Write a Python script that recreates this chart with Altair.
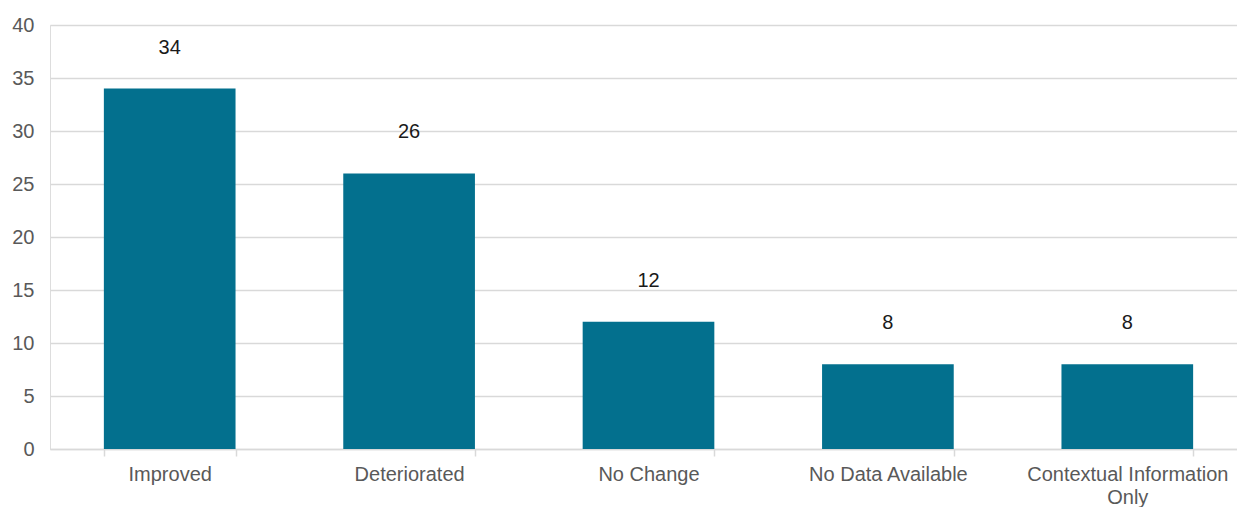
import altair as alt
import pandas as pd

categories = ["Improved", "Deteriorated", "No Change", "No Data Available", "Contextual Information Only"]
counts = [34, 26, 12, 8, 8]

df = pd.DataFrame({"category": categories, "count": counts})

FONT = "Liberation Sans"
BAR = "#03708E"
GRID = "#D9D9D9"
TEXT_GRAY = "#595959"

x = alt.X(
    "category:N",
    sort=categories,
    title=None,
    scale=alt.Scale(paddingInner=0.45, paddingOuter=0.225, range=[0, 1197]),
    axis=alt.Axis(
        labelAngle=0,
        labelFont=FONT,
        labelFontSize=20,
        labelColor=TEXT_GRAY,
        labelPadding=8,
        labelLimit=300,
        labelLineHeight=23,
        labelExpr="datum.label == 'Contextual Information Only' ? ['Contextual Information', 'Only'] : datum.label",
        domainColor=GRID,
        domainWidth=1.5,
        tickColor=GRID,
        tickWidth=1.5,
        tickSize=7,
        tickBand="extent",
        grid=False,
    ),
)

y = alt.Y(
    "count:Q",
    title=None,
    scale=alt.Scale(domain=[0, 40], nice=False),
    axis=alt.Axis(
        values=list(range(0, 41, 5)),
        labelFont=FONT,
        labelFontSize=20,
        labelColor=TEXT_GRAY,
        labelPadding=16,
        domain=False,
        ticks=False,
        gridColor=GRID,
        gridWidth=1.5,
    ),
)

bars = alt.Chart(df).mark_bar(color=BAR).encode(x=x, y=y)

labels = alt.Chart(df).mark_text(
    font=FONT, fontSize=20, color="#1a1a1a", baseline="middle", dy=-41
).encode(x=alt.X("category:N", sort=categories), y="count:Q", text="count:Q")

chart = (
    alt.layer(bars, labels)
    .properties(
        width=1187,
        height=424,
        autosize=alt.AutoSizeParams(type="none"),
        padding={"left": 50, "top": 25, "right": 0, "bottom": 58},
    )
    .configure_view(stroke=None)
    .configure(background="white")
)

chart.save("out.html", embed_options={"renderer": "svg", "actions": False})
